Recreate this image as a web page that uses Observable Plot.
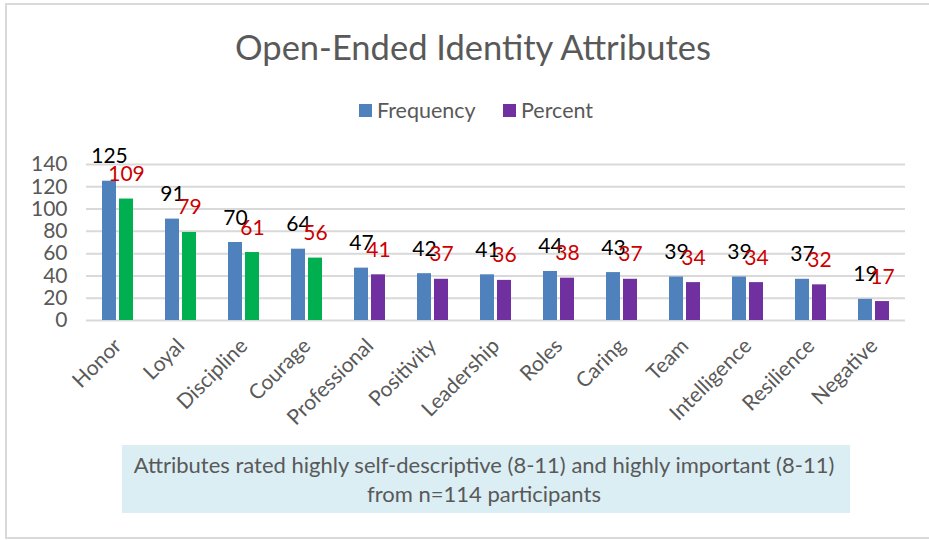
<!DOCTYPE html>
<html>
<head>
<meta charset="utf-8">
<script src="https://cdn.jsdelivr.net/npm/d3@7"></script>
<script src="https://cdn.jsdelivr.net/npm/@observablehq/plot@0.6"></script>
<style>
  body { margin: 0; background: #fff; font-family: Lato, "Open Sans", sans-serif; }
  #wrap { position: relative; width: 929px; height: 540px; overflow: hidden; }
  #bg { position: absolute; left: 0; top: 0; }
  #chart { position: absolute; left: 0; top: 140px; }
</style>
</head>
<body>
<div id="wrap">
  <div id="bg"></div>
  <div id="chart"></div>
</div>
<script>
const title = "Open-Ended Identity Attributes";
const captionLines = [
  "Attributes rated highly self-descriptive (8-11) and highly important (8-11)",
  "from n=114 participants"
];
const categories = ["Honor","Loyal","Discipline","Courage","Professional","Positivity","Leadership","Roles","Caring","Team","Intelligence","Resilience","Negative"];
const frequency = [125, 91, 70, 64, 47, 42, 41, 44, 43, 39, 39, 37, 19];
const percent   = [109, 79, 61, 56, 41, 37, 36, 38, 37, 34, 34, 32, 17];
const highlighted = ["Honor","Loyal","Discipline","Courage"];
const series = ["Frequency","Percent"];
const yTicks = [0, 20, 40, 60, 80, 100, 120, 140];

const seriesColor = {Frequency: "#4f81bd", Percent: "#7030a0"};
const highlightColor = "#00b050";
const labelColor = {Frequency: "#000000", Percent: "#cc0000"};
const textGray = "#595959";

const rows = categories.flatMap((c, i) => [
  {category: c, series: "Frequency", value: frequency[i]},
  {category: c, series: "Percent", value: percent[i]}
]);
const fillOf = d => d.series === "Percent" && highlighted.includes(d.category) ? highlightColor : seriesColor[d.series];

// Background: frame, title, legend, caption
const bg = d3.select("#bg").append("svg").attr("width", 929).attr("height", 540)
  .style("font-family", "Lato, 'Open Sans', sans-serif");
bg.append("rect").attr("x", 6).attr("y", 4).attr("width", 940).attr("height", 534)
  .attr("fill", "#fff").attr("stroke", "#d9d9d9").attr("stroke-width", 2);
bg.append("text").attr("x", 473).attr("y", 60).attr("text-anchor", "middle")
  .attr("font-size", 34.5).attr("fill", textGray).text(title);

const legendX = [359, 503];
const lg = bg.append("g").selectAll("g").data(series).join("g")
  .attr("transform", (d, i) => `translate(${legendX[i]},0)`);
lg.append("rect").attr("x", 0).attr("y", 104).attr("width", 13).attr("height", 13)
  .attr("fill", d => seriesColor[d]);
lg.append("text").attr("x", 18).attr("y", 118).attr("font-size", 21.5)
  .attr("fill", textGray).text(d => d);

bg.append("rect").attr("x", 122).attr("y", 445).attr("width", 728).attr("height", 68)
  .attr("fill", "#dbeef4");
bg.append("g").selectAll("text").data(captionLines).join("text")
  .attr("x", 484).attr("y", (d, i) => 473 + i * 29).attr("text-anchor", "middle")
  .attr("font-size", 22).attr("fill", textGray).text(d => d);

const chart = Plot.plot({
  width: 929,
  height: 300,
  marginTop: 24,
  marginBottom: 120,
  marginLeft: 82,
  marginRight: 20,
  style: {fontFamily: "Lato, 'Open Sans', sans-serif", fontSize: "21px", color: textGray, background: "transparent", overflow: "visible"},
  facet: {data: rows, x: "category"},
  fx: {domain: categories, paddingInner: 0, paddingOuter: 0, label: null, tickRotate: -45, tickSize: 0, tickPadding: 22},
  x: {domain: series, paddingInner: 0.167, paddingOuter: 0.85, axis: null},
  y: {domain: [0, 140], ticks: yTicks, tickSize: 0, tickPadding: 19, label: null},
  color: {type: "identity"},
  marks: [
    Plot.ruleY(yTicks, {stroke: "#d9d9d9", strokeWidth: 2}),
    Plot.barY(rows, {x: "series", y: "value", fill: fillOf}),
    Plot.text(rows, {x: "series", y: "value", text: d => String(d.value),
      fill: d => labelColor[d.series], lineAnchor: "bottom", dy: -18, fontSize: 21})
  ]
});
document.getElementById("chart").appendChild(chart);
</script>
</body>
</html>
